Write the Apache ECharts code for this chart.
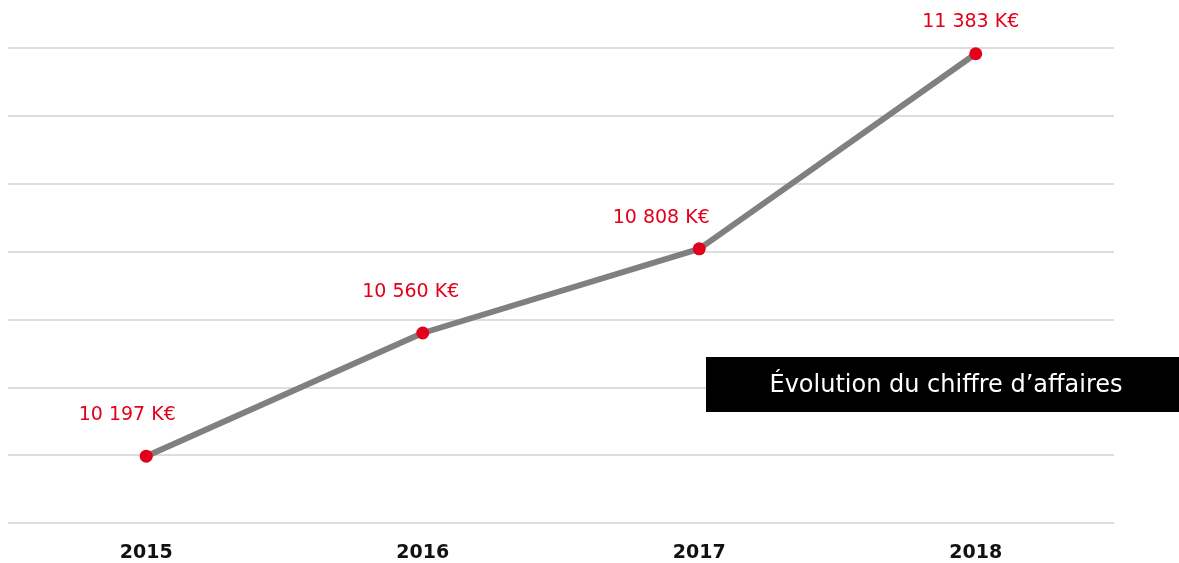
<!DOCTYPE html>
<html><head><meta charset="utf-8">
<script src="https://cdn.jsdelivr.net/npm/echarts@6/dist/echarts.min.js"></script>
<style>html,body{margin:0;padding:0;background:#fff}#c{width:1179px;height:563px}</style>
</head><body><div id="c"></div>
<script>
const years = ['2015', '2016', '2017', '2018'];
const revenue = [10197, 10560, 10808, 11383];
const valueLabels = ['10 197 K€', '10 560 K€', '10 808 K€', '11 383 K€'];
const labelOffsets = [[-19, -41], [-12, -41], [-38, -31], [-5, -32]];
const yTicks = {min: 10000, max: 11400, interval: 200};
const title = 'Évolution du chiffre d’affaires';

const chart = echarts.init(document.getElementById('c'));
chart.setOption({
  animation: false,
  grid: {left: 8, right: 65, top: 48, bottom: 40, containLabel: false},
  xAxis: {
    type: 'category', data: years, boundaryGap: true,
    axisLine: {show: false}, axisTick: {show: false},
    axisLabel: {fontFamily: 'DejaVu Sans', fontWeight: 'bold', fontSize: 19, color: '#111', margin: 21}
  },
  yAxis: {
    type: 'value', min: yTicks.min, max: yTicks.max, interval: yTicks.interval,
    axisLabel: {show: false}, axisLine: {show: false}, axisTick: {show: false},
    splitLine: {lineStyle: {color: '#dddddd', width: 2}}
  },
  series: [{
    type: 'line',
    data: revenue.map((v, i) => ({
      value: v,
      label: {offset: labelOffsets[i], formatter: valueLabels[i]}
    })),
    lineStyle: {color: '#808080', width: 6},
    itemStyle: {color: '#e2001a'},
    symbol: 'circle', symbolSize: 13,
    label: {show: true, position: 'inside', color: '#e2001a', fontFamily: 'DejaVu Sans', fontSize: 19}
  }],
  graphic: [{
    type: 'rect', left: 706, top: 357, shape: {width: 473, height: 55},
    style: {fill: '#000'}, z: 10
  }, {
    type: 'text', x: 946, y: 386,
    style: {text: title, fill: '#fff', fontFamily: 'DejaVu Sans', fontSize: 24, align: 'center', verticalAlign: 'middle'}, z: 11
  }]
});
</script></body></html>
